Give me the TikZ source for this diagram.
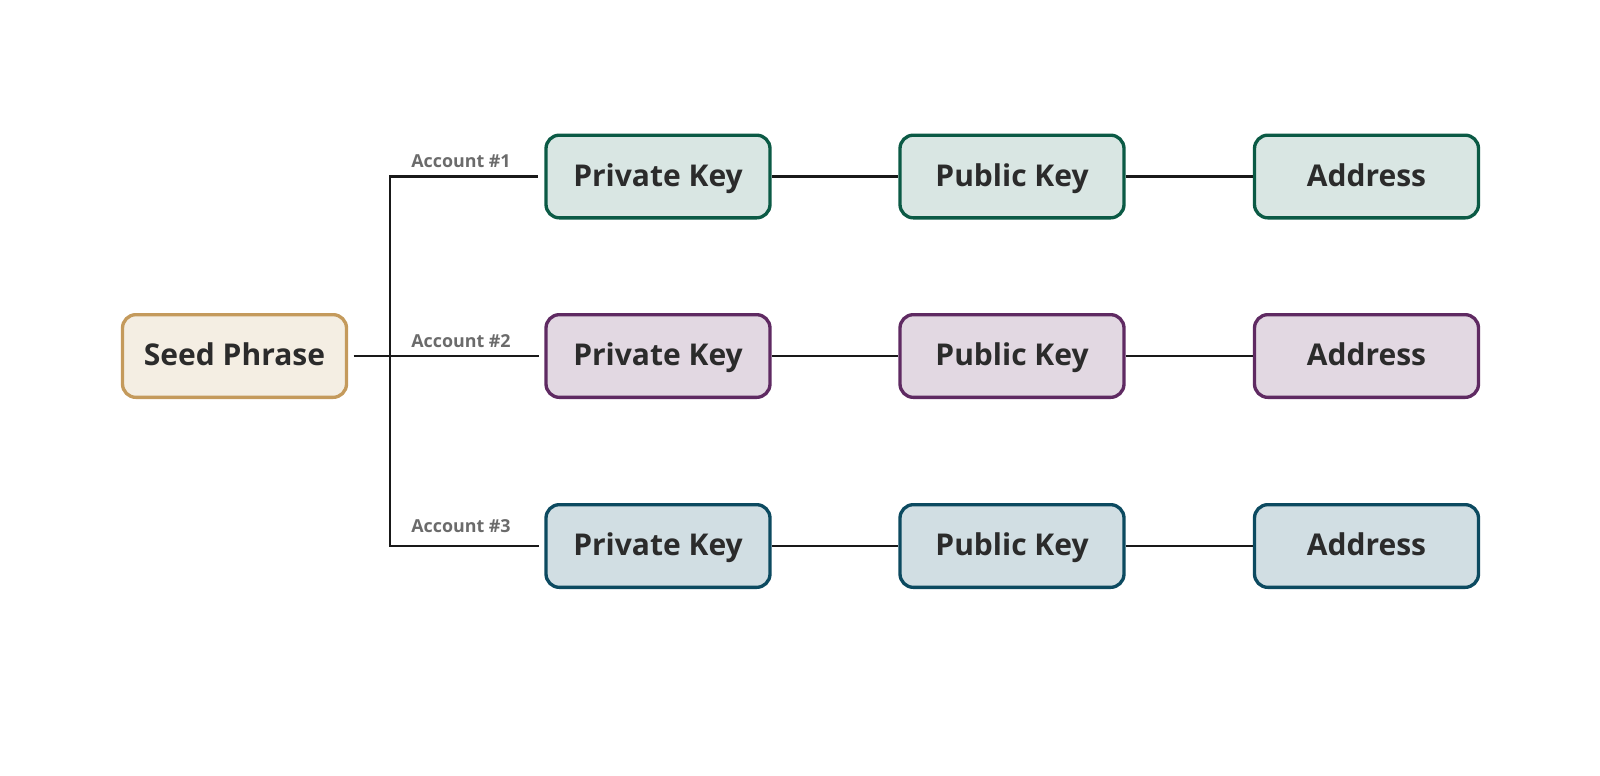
\documentclass[tikz,border=0pt]{standalone}
\usepackage{fontspec}
\setmainfont{Open Sans}
\definecolor{txt}{HTML}{2B2B2B}
\definecolor{lbl}{HTML}{6B6B6B}
\definecolor{seedfill}{HTML}{F4EEE3}
\definecolor{seedline}{HTML}{C49A5C}
\definecolor{gfill}{HTML}{D9E6E3}
\definecolor{gline}{HTML}{0B5A45}
\definecolor{pfill}{HTML}{E2D8E2}
\definecolor{pline}{HTML}{5F2A62}
\definecolor{bfill}{HTML}{D1DEE3}
\definecolor{bline}{HTML}{0C4A60}
\tikzset{
  box/.style={rounded corners=10pt, line width=2.5pt, minimum width=168pt, minimum height=62pt,
    inner sep=0pt, text=txt, text height=14.5pt, text depth=0pt,
    font=\fontsize{22.5}{25}\selectfont\bfseries},
  seedbox/.style={box, draw=seedline, fill=seedfill},
  greenbox/.style={box, draw=gline, fill=gfill},
  purplebox/.style={box, draw=pline, fill=pfill},
  bluebox/.style={box, draw=bline, fill=bfill},
  conn/.style={line width=1.6pt, black!90},
  acct/.style={text=lbl, font=\fontsize{13.4}{15}\selectfont\bfseries, inner sep=0pt, anchor=base}
}
\begin{document}
\begin{tikzpicture}[x=0.75pt,y=-0.75pt]
\useasboundingbox (0,0) rectangle (1600,775);
\node[seedbox] (seed) at (234.5,356) {Seed Phrase};
\node[greenbox] (priv1) at (658,176.5) {Private Key};
\node[greenbox] (pub1) at (1012,176.5) {Public Key};
\node[greenbox] (addr1) at (1366.5,176.5) {Address};
\node[purplebox] (priv2) at (658,356) {Private Key};
\node[purplebox] (pub2) at (1012,356) {Public Key};
\node[purplebox] (addr2) at (1366.5,356) {Address};
\node[bluebox] (priv3) at (658,546) {Private Key};
\node[bluebox] (pub3) at (1012,546) {Public Key};
\node[bluebox] (addr3) at (1366.5,546) {Address};
\coordinate (j) at (390,356);
\draw[conn, shorten <=5pt, shorten >=4pt] (priv1.west) -- (priv1.west -| j) -- (priv3.west -| j) -- (priv3.west);
\draw[conn, shorten <=4pt] (seed.east) -- (j);
\draw[conn, shorten >=4pt] (j) -- (priv2.west);
\foreach \r in {1,2,3}{
  \draw[conn] (priv\r) -- (pub\r);
  \draw[conn] (pub\r) -- (addr\r);
}
\node[acct] (a1) at (461,167) {Account \#1};
\node[acct] (a2) at (461,347) {Account \#2};
\node[acct] (a3) at (461,532) {Account \#3};
\end{tikzpicture}
\end{document}
